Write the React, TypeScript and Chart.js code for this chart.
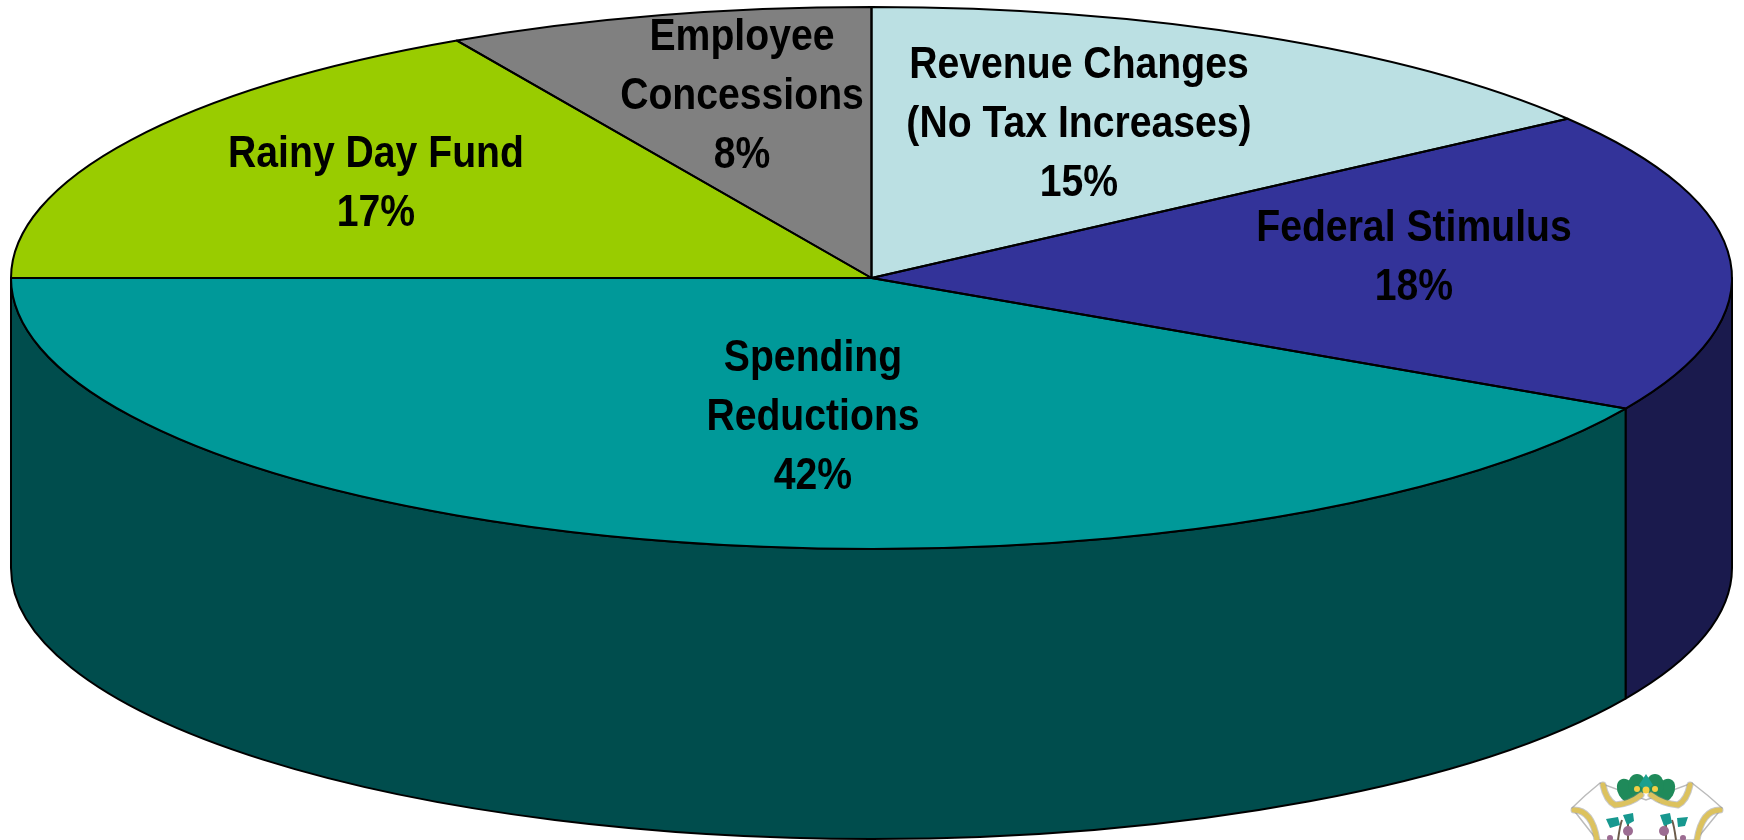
import React, { useEffect, useRef } from "react";
import { Chart, registerables } from "chart.js";

Chart.register(...registerables);

const categories = ["Revenue Changes", "Federal Stimulus", "Spending Reductions", "Rainy Day Fund", "Employee Concessions"];
const shares = [15, 18, 42, 17, 8];
const topColors = ["#BBE0E3", "#333399", "#009999", "#99CC00", "#808080"];
const sideColors = ["#5E7072", "#1A1A4D", "#004D4D", "#4D6600", "#404040"];
const labelLines = [
  ["Revenue Changes", "(No Tax Increases)", "15%"],
  ["Federal Stimulus", "18%"],
  ["Spending", "Reductions", "42%"],
  ["Rainy Day Fund", "17%"],
  ["Employee", "Concessions", "8%"],
];
const labelCentres = [
  [1079, 66],
  [1414, 229],
  [813, 358.5],
  [376, 155],
  [742, 38],
];

const W = 1744;
const H = 840;
const CX = 871.5;
const CY = 278;
const RX = 860.5;
const RY = 271;
const DEPTH = 290;
const LINE = 59;
const FONT_PX = 44;
const TEXT_SQUEEZE = 0.89;

const tilted3d = {
  id: "tilted3d",
  beforeDatasetsDraw(chart: any) {
    const ctx = chart.ctx;
    const arcs = chart.getDatasetMeta(0).data;
    // side wall, front half only
    ctx.save();
    ctx.strokeStyle = "#000";
    ctx.lineWidth = 2;
    ctx.lineJoin = "round";
    arcs.forEach((arc: any, i: number) => {
      const { startAngle, endAngle } = arc.getProps(["startAngle", "endAngle"], true);
      const a = Math.max(startAngle, 0);
      const b = Math.min(endAngle, Math.PI);
      if (b <= a) return;
      ctx.beginPath();
      ctx.ellipse(CX, CY, RX, RY, 0, a, b);
      ctx.lineTo(CX + RX * Math.cos(b), CY + RY * Math.sin(b) + DEPTH);
      ctx.ellipse(CX, CY + DEPTH, RX, RY, 0, b, a, true);
      ctx.closePath();
      ctx.fillStyle = sideColors[i];
      ctx.fill();
      ctx.stroke();
    });
    ctx.restore();
    // flatten the library's circular pie into the tilted ellipse
    const first = arcs[0];
    const { x, y, outerRadius } = first.getProps(["x", "y", "outerRadius"], true);
    ctx.save();
    ctx.translate(CX, CY);
    ctx.scale(RX / outerRadius, RY / outerRadius);
    ctx.translate(-x, -y);
  },
  afterDatasetsDraw(chart: any) {
    const ctx = chart.ctx;
    ctx.restore();
    const arcs = chart.getDatasetMeta(0).data;
    ctx.save();
    ctx.strokeStyle = "#000";
    ctx.lineWidth = 2;
    ctx.lineJoin = "round";
    arcs.forEach((arc: any) => {
      const { startAngle, endAngle } = arc.getProps(["startAngle", "endAngle"], true);
      ctx.beginPath();
      ctx.moveTo(CX, CY);
      ctx.ellipse(CX, CY, RX, RY, 0, startAngle, endAngle);
      ctx.closePath();
      ctx.stroke();
    });
    ctx.fillStyle = "#000";
    ctx.font = `bold ${FONT_PX}px "Liberation Sans", Arial, sans-serif`;
    ctx.textAlign = "center";
    ctx.textBaseline = "middle";
    labelLines.forEach((lines, i) => {
      const [lx, ly] = labelCentres[i];
      lines.forEach((text, j) => {
        ctx.save();
        ctx.translate(lx, ly + j * LINE);
        ctx.scale(TEXT_SQUEEZE, 1);
        ctx.fillText(text, 0, 0);
        ctx.restore();
      });
    });
    ctx.restore();
  },
};

function Crest() {
  return (
    <svg
      width={W}
      height={H}
      style={{ position: "absolute", left: 0, top: 0, pointerEvents: "none" }}
      viewBox={`0 0 ${W} ${H}`}
    >
      <path d="M1600 783 Q1585 795 1572 808 L1597 840 H1696 L1722 808 Q1708 795 1692 783 L1646 800 Z" fill="#fff" stroke="#bbb" strokeWidth="1.5" />
      <g fill="#1F8A5A">
        <ellipse cx="1627" cy="791" rx="9" ry="13" transform="rotate(-30 1627 791)" />
        <ellipse cx="1665" cy="791" rx="9" ry="13" transform="rotate(30 1665 791)" />
        <ellipse cx="1637" cy="785" rx="9" ry="11" />
        <ellipse cx="1655" cy="785" rx="9" ry="11" />
      </g>
      <path d="M1646 774 l7 11 -7 6 -7 -6 Z" fill="#1AA08F" />
      <g fill="none" stroke="#888" strokeWidth="7" strokeLinecap="round" opacity="0.45">
        <path d="M1603 785 Q1606 800 1615 805 Q1630 804 1641 795" />
        <path d="M1690 785 Q1687 800 1678 805 Q1663 804 1651 795" />
        <path d="M1574 810 Q1592 810 1597 840" />
        <path d="M1720 810 Q1702 810 1697 840" />
      </g>
      <g fill="none" stroke="#DCC25E" strokeWidth="5" strokeLinecap="round">
        <path d="M1603 785 Q1606 800 1615 805 Q1630 804 1641 795" />
        <path d="M1690 785 Q1687 800 1678 805 Q1663 804 1651 795" />
        <path d="M1574 810 Q1592 810 1597 840" />
        <path d="M1720 810 Q1702 810 1697 840" />
      </g>
      <g fill="#F2CF45">
        <circle cx="1646" cy="790" r="3.5" />
        <circle cx="1637" cy="789" r="3" />
        <circle cx="1655" cy="789" r="3" />
      </g>
      <g fill="none" stroke="#6B5B4A" strokeWidth="2">
        <path d="M1618 840 Q1620 825 1622 820 M1628 840 V820 M1666 840 V820 M1676 840 Q1674 825 1672 820" />
      </g>
      <g fill="#17988F">
        <path d="M1606 819 l12 -2 2 8 -10 3 Z" />
        <path d="M1623 815 l10 -2 1 8 -7 4 Z" />
        <path d="M1660 815 l10 -2 2 10 -8 3 Z" />
        <path d="M1677 818 l11 -1 -3 9 -7 1 Z" />
      </g>
      <g fill="#9C6C92">
        <circle cx="1628" cy="831" r="5" />
        <circle cx="1664" cy="831" r="5" />
        <circle cx="1610" cy="838" r="3" />
        <circle cx="1683" cy="838" r="3" />
      </g>
    </svg>
  );
}

export default function App() {
  const ref = useRef<HTMLCanvasElement | null>(null);
  useEffect(() => {
    if (!ref.current) return;
    const chart = new Chart(ref.current, {
      type: "pie",
      data: {
        labels: categories,
        datasets: [
          {
            data: shares,
            backgroundColor: topColors,
            borderWidth: 0,
            clip: false,
          } as any,
        ],
      },
      options: {
        responsive: false,
        animation: false,
        layout: { padding: 0 },
        plugins: { legend: { display: false }, tooltip: { enabled: false } },
      },
      plugins: [tilted3d],
    });
    return () => chart.destroy();
  }, []);
  return (
    <div style={{ position: "absolute", left: 0, top: 0, width: W, height: H, overflow: "hidden", background: "#fff" }}>
      <canvas ref={ref} width={W} height={H} style={{ display: "block", width: W, height: H }} />
      <Crest />
    </div>
  );
}
